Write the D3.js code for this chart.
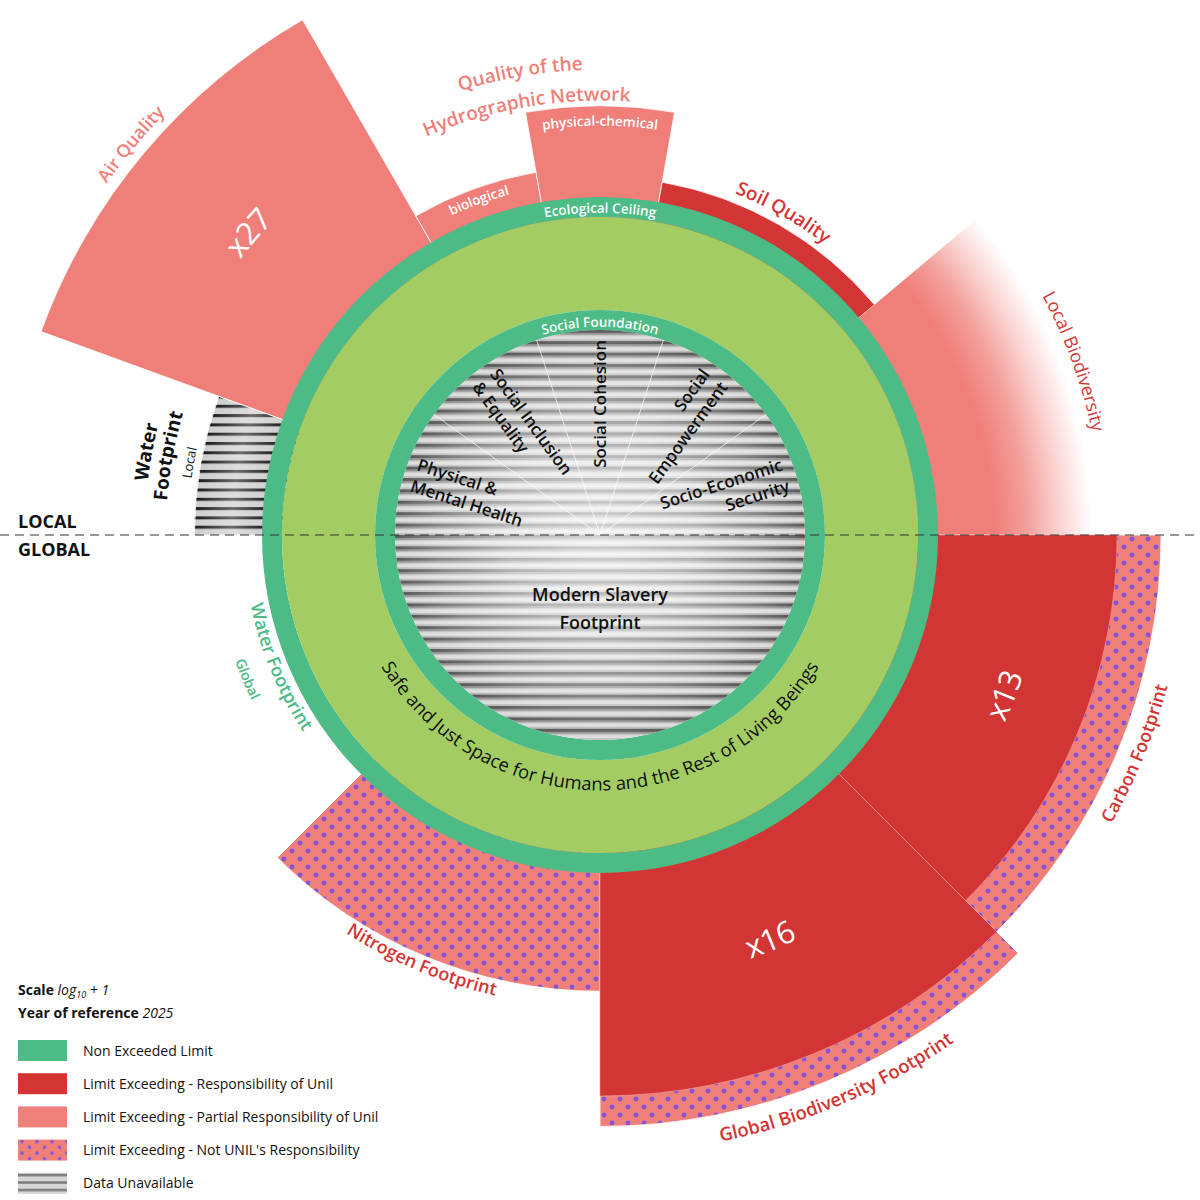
<!DOCTYPE html>
<html><head><meta charset="utf-8">
<script src="https://cdn.jsdelivr.net/npm/d3@7"></script>
<style>
body{margin:0;background:#fff}
svg{display:block;font-family:"Open Sans","Noto Sans",sans-serif}
</style>
</head><body>
<svg id="chart" width="1200" height="1200"></svg>
<script>
// ---------------- DATA ----------------
const sectorNames = ["Water Footprint (Local)", "Air Quality", "Hydrographic Network - biological",
  "Hydrographic Network - physical-chemical", "Soil Quality", "Local Biodiversity",
  "Carbon Footprint", "Global Biodiversity Footprint", "Nitrogen Footprint", "Water Footprint (Global)"];
const sectorStart = [-90, -70, -30, -10, 10, 50, 90, 135, 180, 225];   // degrees, clockwise from top
const sectorEnd   = [-70, -30, -10, 10, 50, 90, 135, 180, 225, 270];
// kind of the total (outer) part of each sector
const sectorKind  = ["unavailable", "partial", "partial", "partial", "responsible", "partialFading",
  "notUnil", "notUnil", "notUnil", "ok"];
// level of each sector, relative to the ecological ceiling (1 = ceiling)
const totalLevel  = [1.20, 1.76, 1.09, 1.27, 1.06, 1.56, 1.66, 1.75, 1.35, 1.00];
// part of the overshoot that is UNIL's responsibility
const unilLevel   = [null, null, null, null, null, null, 1.53, 1.66, null, null];
const multiplierLabels = ["", "x27", "", "", "", "", "x13", "x16", "", ""];

const socialNames = [["Physical &", "Mental Health"], ["Social Inclusion", "& Equality"], ["Social Cohesion"],
  ["Social", "Empowerment"], ["Socio-Economic", "Security"]];
const socialStart = [-90, -54, -18, 18, 54];
const socialEnd   = [-54, -18, 18, 54, 90];
const globalSocialName = ["Modern Slavery", "Footprint"];

const legendKinds  = ["ok", "responsible", "partial", "notUnil", "unavailable"];
const legendLabels = ["Non Exceeded Limit", "Limit Exceeding - Responsibility of Unil",
  "Limit Exceeding - Partial Responsibility of Unil", "Limit Exceeding - Not UNIL's Responsibility", "Data Unavailable"];

// ---------------- STYLE ----------------
const GREEN = "#4CBB86", LIGHTGREEN = "#A3CD63", RED = "#D33535", SALMON = "#F07F7A", PURPLE = "#7F56DA";
const cx = 600, cy = 535;

const svg = d3.select("#chart");
const defs = svg.append("defs");

// dotted pattern
const dots = defs.append("pattern").attr("id", "dots").attr("patternUnits", "userSpaceOnUse")
  .attr("width", 16).attr("height", 16);
dots.append("rect").attr("width", 16).attr("height", 16).attr("fill", SALMON);
[[4, 4], [12, 12]].forEach(([x, y]) => dots.append("circle").attr("cx", x).attr("cy", y).attr("r", 2.4).attr("fill", PURPLE));

const dotsL = defs.append("pattern").attr("id", "dotsLegend").attr("patternUnits", "userSpaceOnUse")
  .attr("width", 15).attr("height", 11.4);
dotsL.append("rect").attr("width", 15).attr("height", 11.4).attr("fill", SALMON);
[[4, 2], [11.5, 7.7]].forEach(([x, y]) => dotsL.append("circle").attr("cx", x).attr("cy", y).attr("r", 1.8).attr("fill", PURPLE));

// inner stripes
const si = defs.append("pattern").attr("id", "stripesInner").attr("patternUnits", "userSpaceOnUse")
  .attr("width", 20).attr("height", 11.4);
si.append("rect").attr("width", 20).attr("height", 11.4).attr("fill", "#bababa");
si.append("rect").attr("y", 0).attr("width", 20).attr("height", 3).attr("fill", "#5a5a5a");
si.append("rect").attr("y", 3).attr("width", 20).attr("height", 1.6).attr("fill", "#8a8a8a");
si.append("rect").attr("y", 6).attr("width", 20).attr("height", 3.5).attr("fill", "#dcdcdc");

// local water stripes
const sw = defs.append("pattern").attr("id", "stripesWater").attr("patternUnits", "userSpaceOnUse")
  .attr("width", 20).attr("height", 9.3);
sw.append("rect").attr("width", 20).attr("height", 9.3).attr("fill", "#cdcdcd");
sw.append("rect").attr("y", 0).attr("width", 20).attr("height", 3).attr("fill", "#1c1c1c");

// legend stripes
const sl = defs.append("pattern").attr("id", "stripesLegend").attr("patternUnits", "userSpaceOnUse")
  .attr("width", 20).attr("height", 7.5);
sl.append("rect").attr("width", 20).attr("height", 7.5).attr("fill", "#d6d6d6");
sl.append("rect").attr("y", 1).attr("width", 20).attr("height", 2.5).attr("fill", "#7a7a7a");

// glow on inner circle
const glow = defs.append("radialGradient").attr("id", "innerGlow").attr("gradientUnits", "userSpaceOnUse")
  .attr("cx", 0).attr("cy", 0).attr("r", 205);
[[0, 0.72], [0.45, 0.55], [0.8, 0.25], [1, 0.0]].forEach(([o, a]) =>
  glow.append("stop").attr("offset", o).attr("stop-color", "#fff").attr("stop-opacity", a));

const wglow = defs.append("radialGradient").attr("id", "waterGlow").attr("gradientUnits", "userSpaceOnUse")
  .attr("cx", 0).attr("cy", 0).attr("r", 405);
[[0, 0], [0.82, 0], [0.91, 0.35], [1, 0]].forEach(([o, a]) =>
  wglow.append("stop").attr("offset", o).attr("stop-color", "#fff").attr("stop-opacity", a));

// fading salmon
const fade = defs.append("radialGradient").attr("id", "fadeSalmon").attr("gradientUnits", "userSpaceOnUse")
  .attr("cx", 0).attr("cy", 0).attr("r", 540);
[[0, 1], [0.73, 1], [0.79, 0.75], [0.85, 0.35], [0.91, 0]].forEach(([o, a]) =>
  fade.append("stop").attr("offset", o).attr("stop-color", SALMON).attr("stop-opacity", a));

const kindFill = {
  ok: GREEN, responsible: RED, partial: SALMON, notUnil: "url(#dots)",
  unavailable: "url(#stripesWater)", partialFading: "url(#fadeSalmon)"
};

const rScale = d3.scaleLinear().domain([0, 1]).range([0, 338]);
const rad = d => d * Math.PI / 180;
const arc = d3.arc();

const g = svg.append("g").attr("transform", `translate(${cx},${cy})`);

// ---------------- SECTORS ----------------
const idx = d3.range(sectorNames.length).filter(i => sectorKind[i] !== "ok");
g.append("g").selectAll("path").data(idx).join("path")
  .attr("d", i => arc({innerRadius: rScale(0.9), outerRadius: rScale(totalLevel[i]),
    startAngle: rad(sectorStart[i]), endAngle: rad(sectorEnd[i])}))
  .attr("fill", i => kindFill[sectorKind[i]])
  .attr("stroke", i => sectorKind[i] === "partialFading" ? "none" : "#fff")
  .attr("stroke-width", 0.8);

// water local light band
g.append("path")
  .attr("d", arc({innerRadius: rScale(0.9), outerRadius: rScale(totalLevel[0]),
    startAngle: rad(sectorStart[0]), endAngle: rad(sectorEnd[0])}))
  .attr("fill", "url(#waterGlow)");

const uidx = d3.range(sectorNames.length).filter(i => unilLevel[i] != null);
g.append("g").selectAll("path").data(uidx).join("path")
  .attr("d", i => arc({innerRadius: rScale(0.9), outerRadius: rScale(unilLevel[i]),
    startAngle: rad(sectorStart[i]), endAngle: rad(sectorEnd[i])}))
  .attr("fill", RED).attr("stroke", "#f3a0a0").attr("stroke-width", 0.6);

// ---------------- RINGS ----------------
const full = (ri, ro) => arc({innerRadius: ri, outerRadius: ro, startAngle: 0, endAngle: 2 * Math.PI});
g.append("path").attr("d", full(318, 338)).attr("fill", GREEN);
g.append("path").attr("d", full(225, 318)).attr("fill", LIGHTGREEN);
g.append("path").attr("d", full(205, 225)).attr("fill", GREEN);
g.append("circle").attr("r", 205).attr("fill", "url(#stripesInner)");
g.append("circle").attr("r", 205).attr("fill", "url(#innerGlow)");

// social separators
g.append("g").selectAll("line").data(socialStart.slice(1)).join("line")
  .attr("x1", 0).attr("y1", 0)
  .attr("x2", a => 205 * Math.sin(rad(a))).attr("y2", a => -205 * Math.cos(rad(a)))
  .attr("stroke", "#fff").attr("stroke-width", 0.8).attr("opacity", 0.9);

// social labels
socialNames.forEach((lines, i) => {
  const mid = (socialStart[i] + socialEnd[i]) / 2;
  const left = mid < -1;
  const rot = left ? mid + 90 : mid - 90;
  const R = 195;
  const x = R * Math.sin(rad(mid)), y = -R * Math.cos(rad(mid));
  const t = g.append("text").attr("transform", `translate(${x},${y}) rotate(${rot})`)
    .attr("text-anchor", left ? "start" : "end")
    .attr("font-size", 17).attr("font-weight", 600).attr("fill", "#111");
  const n = lines.length;
  lines.forEach((ln, k) => {
    const off = (k - (n - 1) / 2) * 22 + 6;
    t.append("tspan").attr("x", 0).attr("y", off).text(ln);
  });
});

// global social label
g.append("text").attr("text-anchor", "middle").attr("font-size", 18).attr("font-weight", 600).attr("fill", "#111")
  .selectAll("tspan").data(globalSocialName).join("tspan")
  .attr("x", 0).attr("y", (d, k) => 66 + k * 28).text(d => d);

// ---------------- ARC LABELS ----------------
const arcLabels = [
  {t: "Air Quality", a: -50.2, r: 612, s: 18, c: SALMON, w: 600, cw: true},
  {t: "Quality of the", a: -9.8, r: 472, s: 19, c: SALMON, w: 600, cw: true},
  {t: "Hydrographic Network", a: -9.8, r: 441, s: 19, c: SALMON, w: 600, cw: true},
  {t: "physical-chemical", a: 0, r: 414, s: 13.5, c: "#fff", w: 600, cw: true},
  {t: "biological", a: -19.9, r: 357, s: 13.5, c: "#fff", w: 600, cw: true},
  {t: "Ecological Ceiling", a: 0, r: 327, s: 13.5, c: "#fff", w: 600, cw: true},
  {t: "Social Foundation", a: 0, r: 213, s: 13.5, c: "#fff", w: 600, cw: true},
  {t: "Soil Quality", a: 29.6, r: 374, s: 19, c: RED, w: 600, cw: true},
  {t: "Local Biodiversity", a: 69.9, r: 509, s: 18, c: RED, w: 500, cw: true},
  {t: "Carbon Footprint", a: 112.2, r: 581, s: 18, c: RED, w: 600, cw: false},
  {t: "Global Biodiversity Footprint", a: 156.9, r: 612, s: 18.5, c: RED, w: 600, cw: false},
  {t: "Nitrogen Footprint", a: 202.7, r: 466, s: 18, c: RED, w: 600, cw: false},
  {t: "Water Footprint", a: 247.6, r: 350, s: 18, c: GREEN, w: 600, cw: false},
  {t: "Global", a: 247.8, r: 381, s: 14, c: GREEN, w: 600, cw: false},
  {t: "Water", a: -79.6, r: 462, s: 19, c: "#111", w: 700, cw: true},
  {t: "Footprint", a: -79.6, r: 441, s: 19, c: "#111", w: 700, cw: true},
  {t: "Local", a: -80, r: 417, s: 13, c: "#111", w: 500, cw: true},
  {t: "Safe and Just Space for Humans and the Rest of Living Beings", a: 180, r: 249, s: 18.5, c: "#111", w: 400, cw: false}
];
// multiplier labels, attached to their sectors
const multLayout = {1: {r: 464, a: -49.3}, 6: {r: 435, a: 111.6}, 7: {r: 439, a: 157.2}};
multiplierLabels.forEach((m, i) => {
  if (m) arcLabels.push({t: m, a: multLayout[i].a, r: multLayout[i].r, s: 31, c: "#fff", w: 400, cw: multLayout[i].a < 90});
});

function arcD(radius, center, cw) {
  const span = 85;
  const p = a => [radius * Math.sin(rad(a)), -radius * Math.cos(rad(a))];
  if (cw) { const s = p(center - span), e = p(center + span); return `M${s[0]},${s[1]}A${radius},${radius} 0 0 1 ${e[0]},${e[1]}`; }
  const s = p(center + span), e = p(center - span); return `M${s[0]},${s[1]}A${radius},${radius} 0 0 0 ${e[0]},${e[1]}`;
}
arcLabels.forEach((L, k) => {
  const base = L.cw ? L.r - 0.35 * L.s : L.r + 0.35 * L.s;
  defs.append("path").attr("id", "lp" + k).attr("d", arcD(base, L.a, L.cw));
  g.append("text").attr("font-size", L.s).attr("font-weight", L.w).attr("fill", L.c)
    .append("textPath").attr("href", "#lp" + k).attr("startOffset", "50%").attr("text-anchor", "middle").text(L.t);
});

// ---------------- LOCAL / GLOBAL ----------------
svg.append("line").attr("x1", 0).attr("x2", 1200).attr("y1", cy).attr("y2", cy)
  .attr("stroke", "#333").attr("stroke-width", 1).attr("stroke-dasharray", "9,6");
svg.append("text").attr("x", 18).attr("y", 528).attr("font-size", 18).attr("font-weight", 700).attr("fill", "#111").text("LOCAL");
svg.append("text").attr("x", 18).attr("y", 556).attr("font-size", 18).attr("font-weight", 700).attr("fill", "#111").text("GLOBAL");

// ---------------- LEGEND ----------------
const lg = svg.append("g").attr("font-size", 14).attr("fill", "#111");
const t1 = lg.append("text").attr("x", 18).attr("y", 995);
t1.append("tspan").attr("font-weight", 700).text("Scale ");
t1.append("tspan").attr("font-style", "italic").text("log");
t1.append("tspan").attr("font-style", "italic").attr("font-size", 9).attr("dy", 3).text("10");
t1.append("tspan").attr("font-style", "italic").attr("dy", -3).text(" + 1");
const t2 = lg.append("text").attr("x", 18).attr("y", 1018);
t2.append("tspan").attr("font-weight", 700).text("Year of reference ");
t2.append("tspan").attr("font-style", "italic").text("2025");

const legFill = {ok: GREEN, responsible: RED, partial: SALMON, notUnil: "url(#dotsLegend)", unavailable: "url(#stripesLegend)"};
const rows = lg.selectAll("g.row").data(legendLabels).join("g").attr("class", "row")
  .attr("transform", (d, i) => `translate(18,${1040 + i * 33.2})`);
rows.append("rect").attr("width", 49).attr("height", 21).attr("fill", (d, i) => legFill[legendKinds[i]]);
rows.append("text").attr("x", 65).attr("y", 15.5).text(d => d);
</script>
</body></html>
